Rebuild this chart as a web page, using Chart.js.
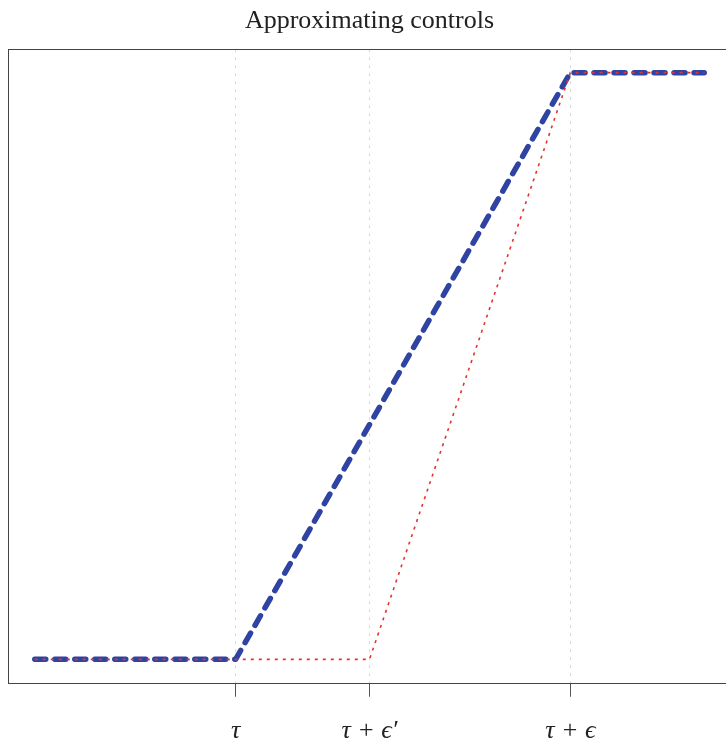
<!DOCTYPE html>
<html>
<head>
<meta charset="utf-8">
<script src="https://cdn.jsdelivr.net/npm/chart.js@4.4.0/dist/chart.umd.min.js"></script>
<style>
  html, body { margin: 0; padding: 0; background: #fff; overflow: hidden; }
  #wrap { position: relative; width: 745px; height: 768px; }
</style>
</head>
<body>
<div id="wrap"><canvas id="c" width="745" height="768"></canvas></div>
<script>
// ---- data ----
const tickValues = [0, 0.4, 1];
const tickLabels = ['τ', 'τ + ϵ′', 'τ + ϵ'];
const xRange = [-0.68, 1.48];
const yRange = [-0.04, 1.04];

// exact control (blue, thick dashed)
const blueX = [-0.6, 0, 1, 1.4];
const blueY = [0, 0, 1, 1];
// approximating control (red, dotted)
const redX = [-0.6, 0, 0.4, 1, 1.4];
const redY = [0, 0, 0, 1, 1];

const toPts = (xs, ys) => xs.map((x, i) => ({ x: x, y: ys[i] }));

const boxPlugin = {
  id: 'box',
  afterDraw(chart) {
    const a = chart.chartArea, ctx = chart.ctx;
    ctx.save();
    ctx.strokeStyle = '#444';
    ctx.lineWidth = 1;
    ctx.setLineDash([]);
    ctx.strokeRect(Math.round(a.left) + 0.5, Math.round(a.top) + 0.5,
                   Math.round(a.right - a.left), Math.round(a.bottom - a.top));
    ctx.restore();
  }
};

new Chart(document.getElementById('c'), {
  type: 'line',
  data: {
    datasets: [
      {
        label: 'approx',
        data: toPts(redX, redY),
        borderColor: '#E3342B',
        borderWidth: 1.6,
        borderDash: [3, 5],
        pointRadius: 0,
        fill: false,
        tension: 0,
        order: 0
      },
      {
        label: 'control',
        data: toPts(blueX, blueY),
        borderColor: '#2F44A2',
        borderWidth: 5.5,
        borderDash: [11, 9],
        borderCapStyle: 'round',
        borderJoinStyle: 'round',
        pointRadius: 0,
        fill: false,
        tension: 0,
        order: 1
      }
    ]
  },
  options: {
    responsive: false,
    animation: false,
    events: [],
    layout: { padding: { left: 8, right: 14, top: 0, bottom: 2 } },
    plugins: {
      legend: { display: false },
      tooltip: { enabled: false },
      title: {
        display: true,
        text: 'Approximating controls',
        color: '#222',
        font: { family: '"Liberation Serif", serif', size: 26, weight: 'normal' },
        padding: { top: 6, bottom: 12 }
      }
    },
    scales: {
      x: {
        type: 'linear',
        min: xRange[0],
        max: xRange[1],
        afterBuildTicks(scale) { scale.ticks = tickValues.map(v => ({ value: v })); },
        grid: {
          color: '#d8d8d8',
          lineWidth: 1,
          drawTicks: true,
          tickLength: 14,
          tickColor: '#555',
          tickWidth: 1,
          tickBorderDash: []
        },
        border: { display: false, dash: [3, 5] },
        ticks: {
          autoSkip: false,
          maxRotation: 0,
          padding: 19,
          color: '#222',
          font: { family: '"Liberation Serif", serif', size: 26, style: 'italic' },
          callback(v) {
            const i = tickValues.indexOf(v);
            return i >= 0 ? tickLabels[i] : '';
          }
        }
      },
      y: {
        type: 'linear',
        min: yRange[0],
        max: yRange[1],
        display: false
      }
    }
  },
  plugins: [boxPlugin]
});
</script>
</body>
</html>
